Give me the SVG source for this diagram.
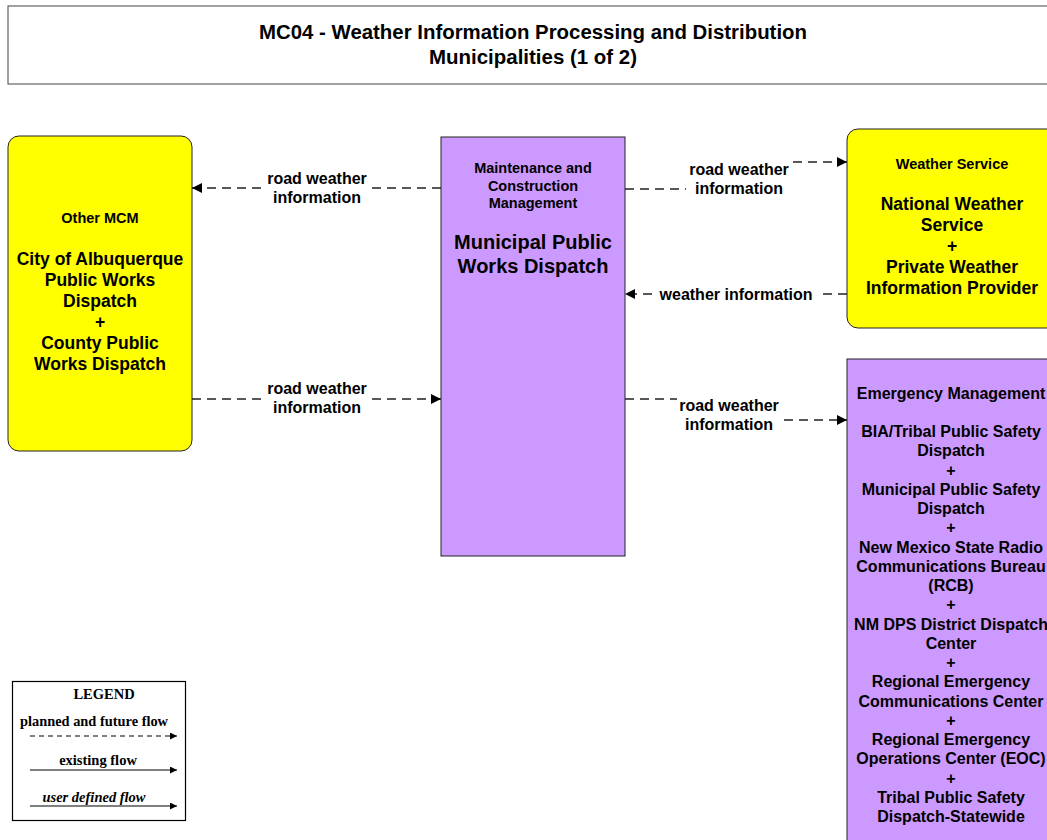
<svg xmlns="http://www.w3.org/2000/svg" width="1047" height="840" viewBox="0 0 1047 840">
<style>
  text { font-family: "Liberation Sans", Arial, sans-serif; font-weight: bold; fill: #000; text-anchor: middle; }
  .hdr { font-size: 14.5px; }
  .nm18 { font-size: 17.5px; }
  .nm20 { font-size: 20px; }
  .nm16 { font-size: 16px; }
  .lbl { font-size: 16px; }
  .yel { fill: #FFFF00; stroke: #222; stroke-width: 1; }
  .pur { fill: #CC99FF; stroke: #222; stroke-width: 1; }
  .flow { fill: none; stroke: #222; stroke-width: 1.5; stroke-dasharray: 9 6; }
  .bg { fill: #FFFFFF; stroke: none; }
  .leg { font-family: "Liberation Serif", "Times New Roman", serif; font-size: 14.5px; }
</style>
<defs>
  <marker id="arr" markerUnits="userSpaceOnUse" markerWidth="11" markerHeight="10" refX="10" refY="5" orient="auto">
    <path d="M0,0 L10,5 L0,10 Z" fill="#000"/>
  </marker>
  <marker id="arrs" markerUnits="userSpaceOnUse" markerWidth="8" markerHeight="7" refX="7" refY="3.5" orient="auto">
    <path d="M0,0 L7,3.5 L0,7 Z" fill="#000"/>
  </marker>
</defs>
<rect width="1047" height="840" fill="#FFFFFF"/>

<g id="title">
  <rect x="8" y="6" width="1050" height="78" fill="#FFFFFF" stroke="#444" stroke-width="1"/>
  <text x="533" y="39" font-size="20" textLength="548" lengthAdjust="spacingAndGlyphs">MC04 - Weather Information Processing and Distribution</text>
  <text x="533" y="64" font-size="20" textLength="208" lengthAdjust="spacingAndGlyphs">Municipalities (1 of 2)</text>
</g>

<g id="connectors">
  <path class="flow" d="M441,188 H192" marker-end="url(#arr)"/>
  <path class="flow" d="M192,399 H441" marker-end="url(#arr)"/>
  <path class="flow" d="M625,189 H737 V162 H847" marker-end="url(#arr)"/>
  <path class="flow" d="M847,294 H625" marker-end="url(#arr)"/>
  <path class="flow" d="M625,399 H729 V420 H847" marker-end="url(#arr)"/>

  <rect class="bg" x="265" y="168" width="104" height="39"/>
  <text class="lbl" x="317" y="184">road weather</text>
  <text class="lbl" x="317" y="203">information</text>

  <rect class="bg" x="264" y="378" width="105" height="39"/>
  <text class="lbl" x="317" y="394">road weather</text>
  <text class="lbl" x="317" y="413">information</text>

  <rect class="bg" x="686" y="158" width="104" height="41"/>
  <text class="lbl" x="739" y="175">road weather</text>
  <text class="lbl" x="739" y="194">information</text>

  <rect class="bg" x="653" y="284" width="166" height="20"/>
  <text class="lbl" x="736" y="300">weather information</text>

  <rect class="bg" x="677" y="395" width="103" height="39"/>
  <text class="lbl" x="729" y="411">road weather</text>
  <text class="lbl" x="729" y="430">information</text>
</g>

<g id="other-mcm">
  <rect class="yel" x="8" y="136" width="184" height="315" rx="11" ry="11"/>
  <text class="hdr" x="100" y="223">Other MCM</text>
  <text class="nm18" x="100" y="265">City of Albuquerque</text>
  <text class="nm18" x="100" y="286">Public Works</text>
  <text class="nm18" x="100" y="307">Dispatch</text>
  <text class="nm18" x="100" y="328">+</text>
  <text class="nm18" x="100" y="349">County Public</text>
  <text class="nm18" x="100" y="370">Works Dispatch</text>
</g>

<g id="mcm-municipal">
  <rect class="pur" x="441" y="137" width="184" height="419"/>
  <text class="hdr" x="533" y="173">Maintenance and</text>
  <text class="hdr" x="533" y="190.5">Construction</text>
  <text class="hdr" x="533" y="208">Management</text>
  <text class="nm20" x="533" y="249">Municipal Public</text>
  <text class="nm20" x="533" y="273">Works Dispatch</text>
</g>

<g id="weather-service">
  <rect class="yel" x="847" y="129" width="212" height="199" rx="11" ry="11"/>
  <text class="hdr" x="952" y="169">Weather Service</text>
  <text class="nm18" x="952" y="210">National Weather</text>
  <text class="nm18" x="952" y="231">Service</text>
  <text class="nm18" x="952" y="252">+</text>
  <text class="nm18" x="952" y="273">Private Weather</text>
  <text class="nm18" x="952" y="294">Information Provider</text>
</g>

<g id="emergency-management">
  <rect class="pur" x="847" y="359" width="212" height="490"/>
  <text class="nm16" x="951" y="399">Emergency Management</text>
  <text class="nm16" x="951" y="437">BIA/Tribal Public Safety</text>
  <text class="nm16" x="951" y="456.25">Dispatch</text>
  <text class="nm16" x="951" y="475.5">+</text>
  <text class="nm16" x="951" y="494.75">Municipal Public Safety</text>
  <text class="nm16" x="951" y="514">Dispatch</text>
  <text class="nm16" x="951" y="533.25">+</text>
  <text class="nm16" x="951" y="552.5">New Mexico State Radio</text>
  <text class="nm16" x="951" y="571.75">Communications Bureau</text>
  <text class="nm16" x="951" y="591">(RCB)</text>
  <text class="nm16" x="951" y="610.25">+</text>
  <text class="nm16" x="951" y="629.5">NM DPS District Dispatch</text>
  <text class="nm16" x="951" y="648.75">Center</text>
  <text class="nm16" x="951" y="668">+</text>
  <text class="nm16" x="951" y="687.25">Regional Emergency</text>
  <text class="nm16" x="951" y="706.5">Communications Center</text>
  <text class="nm16" x="951" y="725.75">+</text>
  <text class="nm16" x="951" y="745">Regional Emergency</text>
  <text class="nm16" x="951" y="764.25">Operations Center (EOC)</text>
  <text class="nm16" x="951" y="783.5">+</text>
  <text class="nm16" x="951" y="802.75">Tribal Public Safety</text>
  <text class="nm16" x="951" y="822">Dispatch-Statewide</text>
</g>

<g id="legend">
  <rect x="12.5" y="681.5" width="173" height="139" fill="#FFFFFF" stroke="#000" stroke-width="1.2"/>
  <text class="leg" x="104" y="699">LEGEND</text>
  <text class="leg" x="94" y="726" textLength="148" lengthAdjust="spacingAndGlyphs">planned and future flow</text>
  <line x1="30" y1="736" x2="177" y2="736" stroke="#000" stroke-width="1.2" stroke-dasharray="5 4" marker-end="url(#arrs)"/>
  <text class="leg" x="98" y="765">existing flow</text>
  <line x1="30" y1="770" x2="177" y2="770" stroke="#000" stroke-width="1.2" marker-end="url(#arrs)"/>
  <text class="leg" x="94" y="802" font-style="italic">user defined flow</text>
  <line x1="30" y1="806" x2="177" y2="806" stroke="#000" stroke-width="1.2" marker-end="url(#arrs)"/>
</g>
</svg>
